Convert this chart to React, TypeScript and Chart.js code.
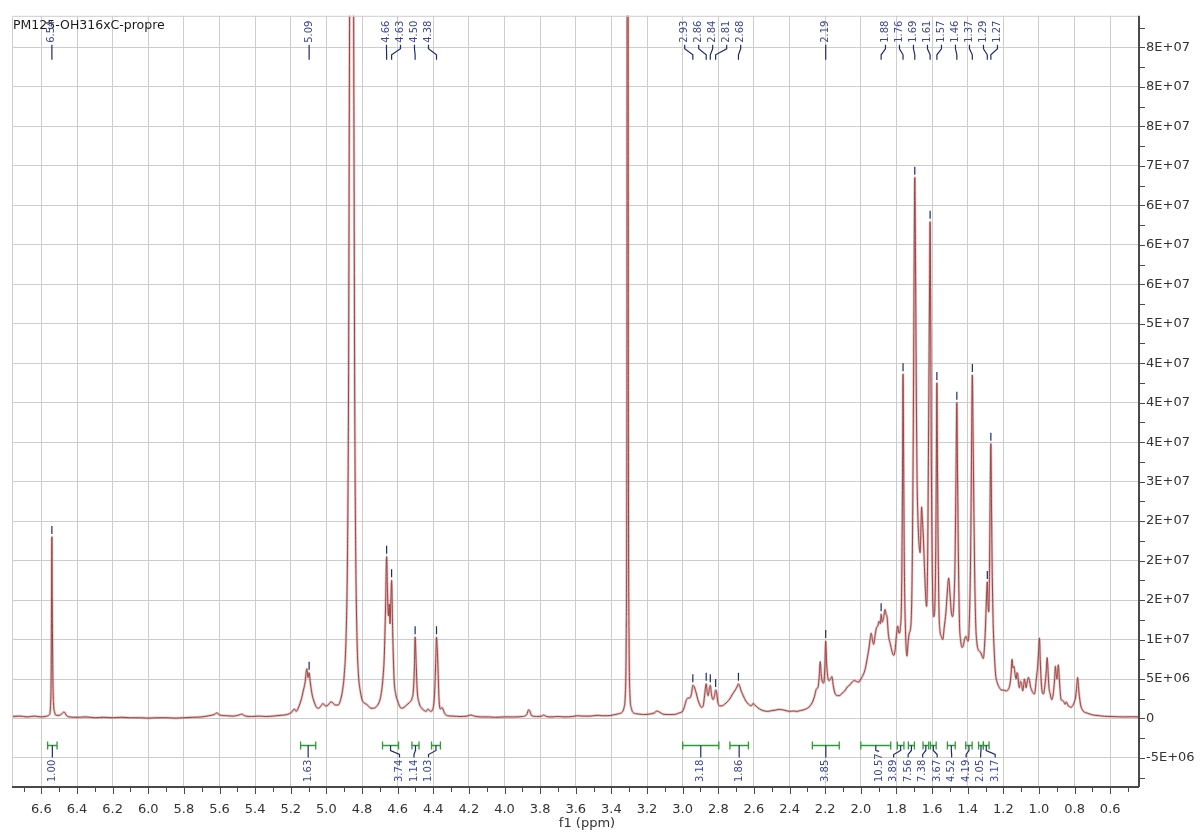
import React, { useEffect, useRef } from "react";
import { Chart, registerables } from "chart.js";

Chart.register(...registerables);

// ---------- data ----------
const TITLE = "PM125-OH316xC-propre";
const X_TITLE = "f1 (ppm)";

// chemical shift (ppm) of each spectrum vertex
const PPM: number[] = [
  6.765, 6.72, 6.68, 6.64, 6.6, 6.57, 6.555, 6.549, 6.545, 6.543, 6.541, 6.539, 6.536, 6.532, 6.526, 6.515, 6.5,
  6.485, 6.475, 6.468, 6.46, 6.44, 6.4, 6.35, 6.3, 6.25, 6.2, 6.15, 6.1, 6.05, 6.0, 5.95, 5.9, 5.85, 5.8, 5.75,
  5.7, 5.66, 5.63, 5.615, 5.6, 5.56, 5.52, 5.49, 5.475, 5.46, 5.42, 5.38, 5.34, 5.3, 5.26, 5.22, 5.195, 5.18,
  5.17, 5.155, 5.14, 5.13, 5.12, 5.11, 5.103, 5.097, 5.09, 5.08, 5.07, 5.055, 5.045, 5.03, 5.02, 5.005, 4.99,
  4.975, 4.965, 4.95, 4.935, 4.92, 4.91, 4.9, 4.89, 4.882, 4.876, 4.871, 4.865, 4.853, 4.846, 4.841, 4.835,
  4.828, 4.82, 4.81, 4.8, 4.79, 4.775, 4.765, 4.75, 4.735, 4.72, 4.705, 4.695, 4.685, 4.675, 4.668, 4.662,
  4.657, 4.652, 4.647, 4.643, 4.638, 4.634, 4.628, 4.62, 4.61, 4.6, 4.59, 4.58, 4.565, 4.55, 4.535, 4.52, 4.512,
  4.506, 4.502, 4.497, 4.49, 4.48, 4.465, 4.45, 4.44, 4.43, 4.425, 4.415, 4.4, 4.392, 4.386, 4.382, 4.378, 4.373,
  4.368, 4.36, 4.352, 4.346, 4.335, 4.32, 4.29, 4.25, 4.21, 4.19, 4.17, 4.13, 4.09, 4.05, 4.0, 3.95, 3.9, 3.875,
  3.865, 3.857, 3.85, 3.82, 3.79, 3.78, 3.77, 3.74, 3.7, 3.66, 3.62, 3.59, 3.56, 3.52, 3.48, 3.45, 3.42, 3.39,
  3.36, 3.34, 3.33, 3.322, 3.317, 3.313, 3.311, 3.307, 3.305, 3.301, 3.296, 3.288, 3.28, 3.26, 3.24, 3.22, 3.19,
  3.16, 3.145, 3.13, 3.11, 3.08, 3.05, 3.02, 3.0, 2.99, 2.98, 2.97, 2.96, 2.95, 2.943, 2.935, 2.925, 2.915, 2.905,
  2.895, 2.885, 2.877, 2.868, 2.862, 2.857, 2.85, 2.845, 2.838, 2.83, 2.822, 2.815, 2.81, 2.802, 2.79, 2.78,
  2.765, 2.75, 2.735, 2.72, 2.705, 2.695, 2.687, 2.68, 2.67, 2.66, 2.645, 2.63, 2.615, 2.605, 2.595, 2.58, 2.56,
  2.54, 2.52, 2.5, 2.48, 2.46, 2.44, 2.42, 2.4, 2.38, 2.36, 2.34, 2.32, 2.3, 2.285, 2.273, 2.26, 2.25, 2.24,
  2.233, 2.228, 2.222, 2.215, 2.208, 2.202, 2.197, 2.192, 2.185, 2.178, 2.17, 2.162, 2.155, 2.145, 2.13, 2.12,
  2.105, 2.09, 2.075, 2.06, 2.045, 2.035, 2.025, 2.013, 2.0, 1.992, 1.976, 1.965, 1.955, 1.948, 1.942, 1.935,
  1.928, 1.92, 1.912, 1.905, 1.898, 1.89, 1.886, 1.88, 1.872, 1.864, 1.858, 1.853, 1.845, 1.835, 1.825, 1.815,
  1.808, 1.8, 1.793, 1.785, 1.778, 1.771, 1.766, 1.763, 1.759, 1.755, 1.749, 1.741, 1.735, 1.728, 1.718, 1.711,
  1.705, 1.7, 1.697, 1.693, 1.688, 1.684, 1.679, 1.673, 1.667, 1.662, 1.659, 1.655, 1.65, 1.644, 1.638, 1.631,
  1.625, 1.619, 1.614, 1.611, 1.608, 1.604, 1.6, 1.596, 1.59, 1.584, 1.58, 1.576, 1.573, 1.57, 1.566, 1.561,
  1.555, 1.548, 1.54, 1.532, 1.522, 1.513, 1.507, 1.5, 1.492, 1.485, 1.478, 1.471, 1.466, 1.461, 1.457, 1.452,
  1.446, 1.44, 1.432, 1.425, 1.418, 1.41, 1.403, 1.397, 1.39, 1.384, 1.379, 1.374, 1.37, 1.365, 1.36, 1.355,
  1.348, 1.341, 1.333, 1.326, 1.318, 1.312, 1.306, 1.3, 1.295, 1.29, 1.286, 1.282, 1.278, 1.274, 1.27, 1.266,
  1.262, 1.257, 1.25, 1.243, 1.235, 1.222, 1.21, 1.2, 1.185, 1.172, 1.163, 1.157, 1.151, 1.146, 1.14, 1.134,
  1.128, 1.124, 1.119, 1.114, 1.11, 1.104, 1.097, 1.091, 1.086, 1.082, 1.077, 1.072, 1.066, 1.059, 1.053, 1.048,
  1.041, 1.035, 1.025, 1.016, 1.011, 1.007, 1.002, 0.997, 0.993, 0.988, 0.984, 0.975, 0.966, 0.959, 0.954,
  0.949, 0.944, 0.937, 0.928, 0.922, 0.917, 0.912, 0.908, 0.903, 0.899, 0.895, 0.891, 0.887, 0.883, 0.876,
  0.87, 0.863, 0.858, 0.853, 0.847, 0.844, 0.835, 0.828, 0.819, 0.812, 0.806, 0.8, 0.795, 0.789, 0.783, 0.778,
  0.773, 0.765, 0.756, 0.748, 0.738, 0.726, 0.712, 0.698, 0.68, 0.66, 0.632, 0.6, 0.56, 0.52, 0.48, 0.444,
];

// intensity at each vertex, in units of 1E+06
const INTENSITY: number[] = [
  0.25, 0.3, 0.2, 0.3, 0.2, 0.3, 0.5, 1.5, 6, 15, 23, 15, 6, 2.0, 0.8, 0.4, 0.4,
  0.6, 0.8, 0.75, 0.4, 0.2, 0.15, 0.2, 0.1, 0.15, 0.1, 0.15, 0.1, 0.1, 0.05, 0.1, 0.1, 0.05, 0.1, 0.15,
  0.2, 0.35, 0.5, 0.7, 0.45, 0.35, 0.3, 0.45, 0.55, 0.35, 0.25, 0.3, 0.25, 0.3, 0.4, 0.5, 0.8, 1.2,
  0.9, 1.5, 2.5, 3.5, 4.5, 6.3, 5.2, 5.8, 4.5, 3.0, 2.2, 1.4, 1.3, 1.6, 1.9, 1.6, 1.7,
  2.1, 2.0, 1.7, 1.7, 2.4, 3.5, 5.5, 10, 20, 40, 80, 120, 120, 80, 40, 20,
  10, 5.5, 3.5, 2.4, 2.0, 1.8, 1.6, 1.3, 1.3, 1.5, 2.0, 2.8, 4.5, 8, 14, 20.5,
  16, 13, 14.5, 12, 15, 17.5, 11, 5.0, 3.0, 2.2, 1.6, 1.3, 1.4, 1.7, 2.0, 2.5, 3.5,
  6.5, 10.3, 7.5, 3.5, 2.0, 1.3, 1.0, 0.9, 1.2, 1.1, 0.9, 1.4, 3.5, 7.5, 10.3, 9.0, 6,
  2.5, 1.2, 1.4, 1.2, 0.6, 0.35, 0.3, 0.25, 0.3, 0.45, 0.3, 0.2, 0.2, 0.15, 0.2, 0.2, 0.25, 0.5,
  1.1, 0.9, 0.4, 0.25, 0.3, 0.45, 0.3, 0.2, 0.25, 0.2, 0.25, 0.35, 0.3, 0.3, 0.4, 0.35, 0.35, 0.45,
  0.6, 0.8, 1.3, 3, 10, 40, 130, 130, 40, 10, 3, 1.3, 0.8, 0.6, 0.55, 0.5, 0.55,
  0.7, 0.95, 0.8, 0.55, 0.5, 0.5, 0.7, 0.95, 1.5, 2.3, 2.6, 2.6, 3.2, 4.2, 4.0, 3.3, 2.4, 1.8,
  1.4, 1.6, 2.9, 4.4, 3.3, 2.9, 3.8, 4.2, 3.0, 2.4, 2.8, 3.6, 3.4, 2.0, 1.6, 1.6,
  1.8, 2.1, 2.5, 3.1, 3.6, 4.0, 4.4, 4.1, 3.4, 2.9, 2.2, 1.8, 1.6, 1.9, 1.7, 1.4, 1.1,
  0.95, 0.9, 1.0, 1.05, 1.15, 1.1, 1.0, 0.9, 0.95, 0.9, 1.0, 1.1, 1.3, 1.6, 2.0, 2.8, 3.7, 4.0,
  5.5, 7.2, 5.5, 4.6, 4.5, 6.5, 9.8, 7.0, 5.2, 4.8, 5.0, 5.3, 4.2, 3.2, 2.9, 2.9,
  3.2, 3.5, 4.0, 4.3, 4.7, 4.8, 4.7, 4.6, 5.0, 5.3, 6.2, 7.5, 8.8, 10.0, 10.8, 10.0,
  9.4, 10.5, 11.5, 11.7, 12.3, 12.0, 13.2, 12.2, 12.8, 13.8, 13.2, 12.9, 10.6, 9.5, 8.5, 8.0,
  8.6, 10.5, 11.7, 10.8, 11.5, 16, 30, 43.6, 30, 18, 11, 7.9, 9.5, 10.8, 12.1, 20,
  38, 60, 68.5, 58, 40, 30, 25, 22, 21, 24.5, 26.8, 25.5, 23.5, 20, 16.5, 14.2,
  20, 38, 55, 62.9, 52, 32, 21, 15, 12.9, 14.5, 20, 32, 42.5, 33, 22, 13.5,
  11, 10.4, 10.0, 11.5, 13.5, 16.5, 17.8, 16.0, 13.5, 12.9, 14.5, 20, 30, 40.0, 31, 20,
  12, 10.0, 9.0, 9.2, 10.0, 10.4, 10.0, 9.8, 13, 20, 32, 43.5, 36, 26, 17, 12,
  9.5, 8.7, 8.5, 8.3, 7.8, 7.6, 9.0, 11.7, 15.0, 17.3, 14.5, 13.5, 18, 28, 34.8, 26,
  18, 12, 8.0, 5.5, 4.6, 3.9, 3.6, 3.6, 3.5, 3.7, 4.3, 5.5, 7.5, 6.4, 6.6, 5.6,
  5.0, 5.8, 5.6, 4.3, 3.9, 4.7, 4.3, 3.5, 4.2, 5.0, 4.5, 3.9, 4.6, 5.2, 4.8, 4.1,
  3.6, 3.3, 3.1, 4.7, 5.8, 6.6, 8.5, 10.2, 7.5, 5.0, 3.7, 3.1, 4.3, 6.0, 7.7,
  6.0, 4.0, 3.1, 2.4, 2.8, 3.7, 5.0, 6.6, 5.5, 5.0, 6.0, 6.8, 5.5, 4.1, 2.4,
  2.3, 2.2, 2.0, 1.8, 2.1, 2.0, 1.6, 1.5, 1.4, 1.6, 1.8, 2.2, 2.6, 3.8, 5.2, 4.0,
  2.8, 1.6, 1.1, 0.85, 0.75, 0.65, 0.55, 0.45, 0.4, 0.35, 0.28, 0.25, 0.22, 0.2, 0.22, 0.2,
];

// labelled peaks (ppm)
const PEAK_LABELS: number[] = [
  6.54, 5.09, 4.66, 4.63, 4.5, 4.38, 2.93, 2.86, 2.84, 2.81, 2.68, 2.19, 1.88, 1.76, 1.69, 1.61, 1.57, 1.46,
  1.37, 1.29, 1.27,
];

// integral regions (ppm) and their values
const INTEGRAL_FROM: number[] = [6.565, 5.145, 4.685, 4.52, 4.41, 3.0, 2.735, 2.272, 2.0, 1.795, 1.733, 1.651, 1.609, 1.514, 1.411, 1.339, 1.312];
const INTEGRAL_TO: number[] = [6.512, 5.06, 4.595, 4.48, 4.36, 2.797, 2.631, 2.121, 1.832, 1.758, 1.699, 1.619, 1.577, 1.47, 1.375, 1.312, 1.28];
const INTEGRAL_VALUES: number[] = [1.0, 1.63, 3.74, 1.14, 1.03, 3.18, 1.86, 3.85, 10.57, 3.89, 7.56, 7.38, 3.67, 4.52, 4.19, 2.05, 3.17];

// axes
const X_TICKS: number[] = [6.6, 6.4, 6.2, 6.0, 5.8, 5.6, 5.4, 5.2, 5.0, 4.8, 4.6, 4.4, 4.2, 4.0, 3.8, 3.6, 3.4, 3.2, 3.0, 2.8, 2.6, 2.4, 2.2, 2.0, 1.8, 1.6, 1.4, 1.2, 1.0, 0.8, 0.6];
const Y_TICKS: number[] = [-5e6, 0, 5e6, 10e6, 15e6, 20e6, 25e6, 30e6, 35e6, 40e6, 45e6, 50e6, 55e6, 60e6, 65e6, 70e6, 75e6, 80e6, 85e6];
const Y_TICK_LABELS: string[] = ["-5E+06", "0", "5E+06", "1E+07", "2E+07", "2E+07", "2E+07", "3E+07", "4E+07", "4E+07", "4E+07", "5E+07", "6E+07", "6E+07", "6E+07", "7E+07", "8E+07", "8E+07", "8E+07"];
const X_MIN = 0.444;
const X_MAX = 6.765;
const Y_MIN = -8.55e6;
const Y_MAX = 89e6;

// ---------- styling ----------
const FONT = '"DejaVu Sans", sans-serif';
const LINE_DARK = "#7c1414";
const LINE_HALO = "rgba(196,125,125,0.45)";
const NAVY = "#1f2a6e";
const LABEL_BLUE = "#3b4795";
const GREEN = "#2f9a36";
const GRID = "#cdcdcd";
const AXIS = "#4a4a4a";

function nearestPeakIndex(ppm: number): number {
  let best = -1;
  let bd = Infinity;
  for (let i = 1; i < PPM.length - 1; i++) {
    if (INTENSITY[i] >= INTENSITY[i - 1] && INTENSITY[i] >= INTENSITY[i + 1]) {
      const d = Math.abs(PPM[i] - ppm);
      if (d < bd) {
        bd = d;
        best = i;
      }
    }
  }
  return best;
}

type Item = { text: string; ax: number; lx: number; extra: any };

function spreadLabels(items: Item[], spacing: number, gap: number) {
  items.sort((a, b) => a.ax - b.ax);
  let groups: Item[][] = [];
  let cur: Item[] = [];
  items.forEach((it, i) => {
    if (i > 0 && it.ax - items[i - 1].ax >= gap) {
      groups.push(cur);
      cur = [];
    }
    cur.push(it);
  });
  if (cur.length) groups.push(cur);
  const place = (g: Item[]) => {
    const mean = g.reduce((s, it) => s + it.ax, 0) / g.length;
    const start = mean - ((g.length - 1) * spacing) / 2;
    g.forEach((it, k) => (it.lx = start + k * spacing));
  };
  groups.forEach(place);
  let changed = true;
  while (changed) {
    changed = false;
    for (let i = 0; i < groups.length - 1; i++) {
      const a = groups[i];
      const b = groups[i + 1];
      if (b[0].lx - a[a.length - 1].lx < spacing) {
        const m = a.concat(b);
        place(m);
        groups.splice(i, 2, m);
        changed = true;
        break;
      }
    }
  }
}

const nmrPlugin = {
  id: "nmrDecor",
  afterDatasetsDraw(chart: any) {
    const { ctx, chartArea } = chart;
    const xs = chart.scales.x;
    const ys = chart.scales.y;
    const { left, right, top, bottom } = chartArea;
    ctx.save();

    // light frame on top and left
    ctx.strokeStyle = GRID;
    ctx.lineWidth = 1;
    ctx.beginPath();
    ctx.moveTo(left + 0.5, bottom);
    ctx.lineTo(left + 0.5, top + 0.5);
    ctx.lineTo(right, top + 0.5);
    ctx.stroke();

    // axis lines
    ctx.strokeStyle = AXIS;
    ctx.lineWidth = 2;
    ctx.beginPath();
    ctx.moveTo(left, bottom + 1);
    ctx.lineTo(right + 1, bottom + 1);
    ctx.moveTo(right + 1, bottom + 1);
    ctx.lineTo(right + 1, top);
    ctx.stroke();

    // x tick marks (major + minor)
    ctx.lineWidth = 1;
    ctx.beginPath();
    X_TICKS.forEach((v, i) => {
      const px = Math.round(xs.getPixelForValue(v)) + 0.5;
      ctx.moveTo(px, bottom + 2);
      ctx.lineTo(px, bottom + 8);
      const mids = [v + 0.1];
      if (i === X_TICKS.length - 1) mids.push(v - 0.1);
      mids.forEach((m) => {
        if (m <= X_MAX && m >= X_MIN) {
          const pm = Math.round(xs.getPixelForValue(m)) + 0.5;
          ctx.moveTo(pm, bottom + 2);
          ctx.lineTo(pm, bottom + 6);
        }
      });
    });
    // y tick marks (major + minor)
    Y_TICKS.forEach((v, i) => {
      const py = Math.round(ys.getPixelForValue(v)) + 0.5;
      ctx.moveTo(right + 2, py);
      ctx.lineTo(right + 7, py);
      const mids = [v + 2.5e6];
      if (i === 0) mids.push(v - 2.5e6);
      mids.forEach((m) => {
        if (m <= Y_MAX && m >= Y_MIN) {
          const pm = Math.round(ys.getPixelForValue(m)) + 0.5;
          ctx.moveTo(right + 2, pm);
          ctx.lineTo(right + 7, pm);
        }
      });
    });
    ctx.stroke();

    // x axis title
    ctx.fillStyle = "#333";
    ctx.font = `13px ${FONT}`;
    ctx.textAlign = "center";
    ctx.textBaseline = "middle";
    ctx.fillText(X_TITLE, (left + right) / 2 + 12, bottom + 38);

    // chart title
    ctx.fillStyle = "#1a1a1a";
    ctx.font = `12.5px ${FONT}`;
    ctx.textAlign = "left";
    ctx.textBaseline = "middle";
    ctx.fillText(TITLE, left + 1, top + 10);

    // ---- peak labels ----
    const peaks: Item[] = PEAK_LABELS.map((v) => {
      const idx = nearestPeakIndex(v);
      const px = xs.getPixelForValue(PPM[idx]);
      const py = ys.getPixelForValue(INTENSITY[idx] * 1e6);
      return { text: v.toFixed(2), ax: px, lx: px, extra: { py } };
    });
    spreadLabels(peaks, 14, 30);
    ctx.font = `10px ${FONT}`;
    peaks.forEach((p) => {
      ctx.strokeStyle = NAVY;
      ctx.lineWidth = 1.2;
      ctx.beginPath();
      ctx.moveTo(p.ax, p.extra.py - 3);
      ctx.lineTo(p.ax, p.extra.py - 11);
      ctx.moveTo(p.lx, top + 29);
      ctx.lineTo(p.lx, top + 33);
      ctx.lineTo(p.ax, top + 39);
      ctx.lineTo(p.ax, top + 44);
      ctx.stroke();
      ctx.save();
      ctx.translate(p.lx, top + 27);
      ctx.rotate(-Math.PI / 2);
      ctx.fillStyle = LABEL_BLUE;
      ctx.textAlign = "left";
      ctx.textBaseline = "middle";
      ctx.fillText(p.text, 0, 0);
      ctx.restore();
    });

    // ---- integrals ----
    const bracketY = ys.getPixelForValue(0) + 27;
    const ints: Item[] = INTEGRAL_VALUES.map((v, i) => {
      const x1 = xs.getPixelForValue(INTEGRAL_FROM[i]);
      const x2 = xs.getPixelForValue(INTEGRAL_TO[i]);
      return { text: v.toFixed(2), ax: (x1 + x2) / 2, lx: (x1 + x2) / 2, extra: { x1, x2 } };
    });
    spreadLabels(ints, 14.5, 30);
    const textBottom = bottom - 4;
    ints.forEach((it) => {
      ctx.strokeStyle = GREEN;
      ctx.lineWidth = 1.3;
      ctx.beginPath();
      ctx.moveTo(it.extra.x1, bracketY);
      ctx.lineTo(it.extra.x2, bracketY);
      ctx.moveTo(it.extra.x1, bracketY - 4);
      ctx.lineTo(it.extra.x1, bracketY + 4);
      ctx.moveTo(it.extra.x2, bracketY - 4);
      ctx.lineTo(it.extra.x2, bracketY + 4);
      ctx.stroke();

      const w = ctx.measureText(it.text).width;
      const textTop = textBottom - w;
      const endY = Math.min(bracketY + 12, textTop - 2);
      ctx.strokeStyle = NAVY;
      ctx.lineWidth = 1.2;
      ctx.beginPath();
      ctx.moveTo(it.ax, bracketY);
      ctx.lineTo(it.ax, bracketY + 5);
      ctx.lineTo(it.lx, Math.min(bracketY + 9, endY));
      ctx.lineTo(it.lx, endY);
      ctx.stroke();

      ctx.save();
      ctx.translate(it.lx, textBottom);
      ctx.rotate(-Math.PI / 2);
      ctx.fillStyle = LABEL_BLUE;
      ctx.textAlign = "left";
      ctx.textBaseline = "middle";
      ctx.fillText(it.text, 0, 0);
      ctx.restore();
    });

    ctx.restore();
  },
};

export default function App() {
  const ref = useRef<HTMLCanvasElement | null>(null);
  useEffect(() => {
    if (!ref.current) return;
    const points = PPM.map((x, i) => ({ x, y: INTENSITY[i] * 1e6 }));
    const chart = new Chart(ref.current, {
      type: "line",
      data: {
        datasets: [
          {
            data: points,
            borderColor: LINE_HALO,
            borderWidth: 2.6,
            pointRadius: 0,
            cubicInterpolationMode: "monotone",
            fill: false,
          },
          {
            data: points,
            borderColor: LINE_DARK,
            borderWidth: 1,
            pointRadius: 0,
            cubicInterpolationMode: "monotone",
            fill: false,
          },
        ],
      },
      options: {
        responsive: false,
        animation: false,
        devicePixelRatio: 1,
        layout: { padding: { left: 12, top: 12, right: 0, bottom: 0 } },
        plugins: { legend: { display: false }, tooltip: { enabled: false }, title: { display: false } },
        scales: {
          x: {
            type: "linear",
            reverse: true,
            min: X_MIN,
            max: X_MAX,
            position: "bottom",
            afterBuildTicks: (s: any) => {
              s.ticks = X_TICKS.map((v) => ({ value: v }));
            },
            afterFit: (s: any) => {
              s.height = 46;
            },
            ticks: {
              autoSkip: false,
              maxRotation: 0,
              padding: 16,
              color: "#333",
              font: { family: "DejaVu Sans", size: 13 },
              callback: (v: any) => Number(v).toFixed(1),
            },
            grid: { color: GRID, lineWidth: 1, drawTicks: false },
            border: { display: false },
          },
          y: {
            type: "linear",
            position: "right",
            min: Y_MIN,
            max: Y_MAX,
            afterBuildTicks: (s: any) => {
              s.ticks = Y_TICKS.map((v) => ({ value: v }));
            },
            afterFit: (s: any) => {
              s.width = 62;
            },
            ticks: {
              autoSkip: false,
              padding: 8,
              color: "#333",
              font: { family: "DejaVu Sans", size: 13 },
              callback: (v: any) => {
                const i = Y_TICKS.indexOf(Number(v));
                return i >= 0 ? Y_TICK_LABELS[i] : "";
              },
            },
            grid: { color: GRID, lineWidth: 1, drawTicks: false },
            border: { display: false },
          },
        },
      },
      plugins: [nmrPlugin],
    } as any);
    return () => chart.destroy();
  }, []);

  return (
    <div style={{ position: "absolute", left: 0, top: 0, width: 1200, height: 832, background: "#fff" }}>
      <canvas ref={ref} width={1200} height={832} style={{ width: 1200, height: 832, display: "block" }} />
    </div>
  );
}
